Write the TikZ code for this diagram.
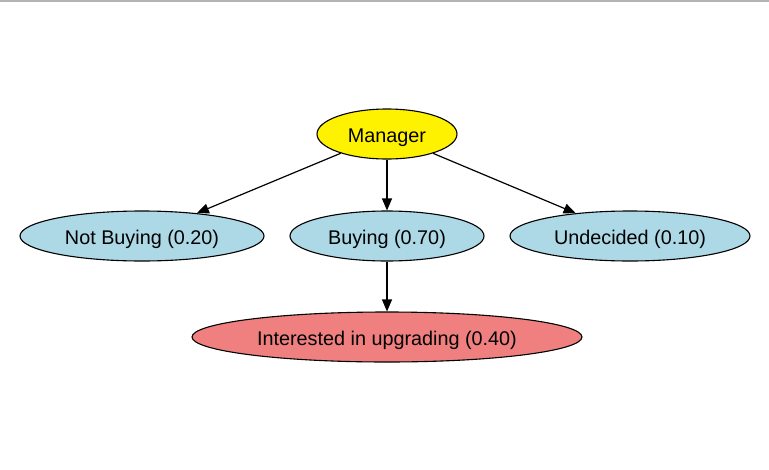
\documentclass[tikz,border=0pt]{standalone}
\usepackage{fontspec}
\setmainfont{Liberation Sans}
\usetikzlibrary{shapes.geometric,arrows.meta}
\definecolor{lblue}{HTML}{ADD8E6}
\definecolor{lcoral}{HTML}{F08080}
\definecolor{topline}{HTML}{B4B4B4}
\begin{document}
\begin{tikzpicture}[x=1pt,y=-1pt,
  ell/.style={ellipse,draw=black,line width=1.1pt,inner sep=0pt,minimum height=50pt,text height=16pt,text depth=0pt,font=\fontsize{19.8}{22}\selectfont},
  edge/.style={draw=black,line width=1.2pt,-{Triangle[length=12pt,width=10pt]}}]
\useasboundingbox (0,0) rectangle (769,469);
\fill[white] (0,0) rectangle (769,469);
\draw[topline,line width=1.5pt] (0,0.75) -- (769,0.75);
\node[ell,fill=yellow,minimum width=140pt] (m) at (387,134) {Manager};
\node[ell,fill=lblue,minimum width=244pt] (nb) at (142,236) {Not Buying (0.20)};
\node[ell,fill=lblue,minimum width=194pt] (b) at (387,236) {Buying (0.70)};
\node[ell,fill=lblue,minimum width=240pt] (u) at (630,236) {Undecided (0.10)};
\node[ell,fill=lcoral,minimum width=390pt] (i) at (387,337) {Interested in upgrading (0.40)};
\draw[edge] (m) -- (nb);
\draw[edge] (m) -- (b);
\draw[edge] (m) -- (u);
\draw[edge] (b) -- (i);
\end{tikzpicture}
\end{document}
